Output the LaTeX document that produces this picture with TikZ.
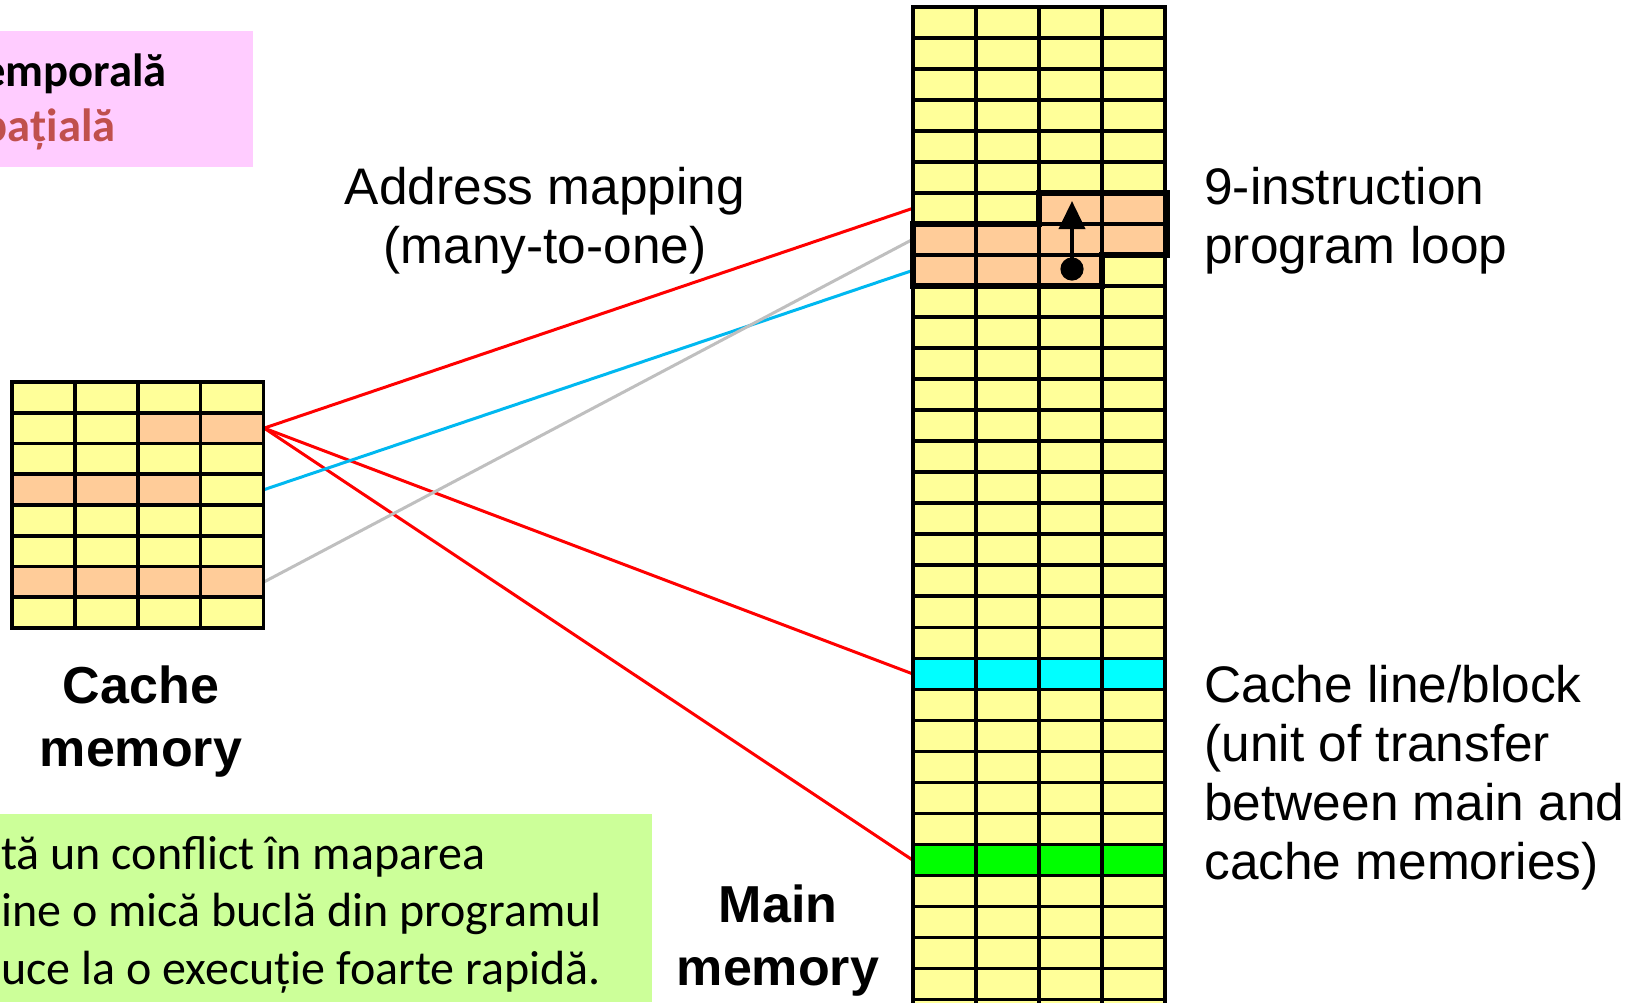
\documentclass[tikz,border=0pt]{standalone}
\usepackage{fontspec}
\setmainfont{Liberation Sans}
\newfontfamily\calf{Carlito}
\usetikzlibrary{arrows.meta}
\definecolor{cellY}{HTML}{FFFF99}
\definecolor{cellO}{HTML}{FFCC99}
\definecolor{cellC}{HTML}{00FFFF}
\definecolor{cellG}{HTML}{00FF00}
\definecolor{pinkbg}{HTML}{FFCCFF}
\definecolor{greenbg}{HTML}{CCFF99}
\definecolor{pinktext}{HTML}{C0504D}
\definecolor{blueline}{HTML}{00B8F0}
\definecolor{grayline}{HTML}{BFBFBF}
\tikzset{
  rowbox/.style={minimum width=126pt, minimum height=15.5pt, inner sep=0pt, draw=none},
  gridline/.style={line width=1.8pt, black},
  mapred/.style={line width=1.5pt, red},
  mapblue/.style={line width=1.5pt, blueline},
  mapgray/.style={line width=1.5pt, grayline},
  loopframe/.style={line width=3pt, black, line join=miter},
  armfont/.style={font=\fontsize{25.7}{29.4}\selectfont, inner sep=0pt},
  boldlbl/.style={font=\bfseries\fontsize{26}{31.5}\selectfont, inner sep=0pt, align=center},
}
\begin{document}
\begin{tikzpicture}[x=0.5pt,y=-0.5pt]
\useasboundingbox (0,0) rectangle (1634,1002);
\clip (0,0) rectangle (1634,1002);

% pink box
\fill[pinkbg] (0,31) rectangle (253,167);
\node[anchor=base east, inner sep=0pt, font=\calf\bfseries\fontsize{23.3}{27.5}\selectfont] (ptemp) at (167,86) {emporală};
\node[anchor=base east, inner sep=0pt, font=\calf\bfseries\fontsize{23.3}{27.5}\selectfont, text=pinktext] (pspat) at (116,141) {pațială};

% green box
\fill[greenbg] (0,814) rectangle (652,1002);
\node[anchor=base west, inner sep=0pt, align=left, font=\calf\fontsize{24}{28.7}\selectfont] (gtext) at (1,984)
  {tă un conflict în maparea\\ine o mică buclă din programul\\uce la o execuție foarte rapidă.};

% row anchors
\foreach \r in {0,...,32} \node[rowbox] (m\r) at (1039,{6.7+(\r+0.5)*31.03}) {};
\foreach \r in {0,...,7} \node[rowbox] (c\r) at (137.75,{382+(\r+0.5)*30.75}) {};

% mapping lines
\draw[mapred] (c1.east) -- (m6.west);
\draw[mapred] (c1.east) -- (m21.west);
\draw[mapred] (c1.east) -- (m27.west);
\draw[mapblue] (c3.east) -- (m8.west);
\draw[mapgray] (c6.east) -- (m7.west);

% main memory
\fill[cellY] (913,6.7) rectangle (1165,1010);
\fill[cellO] (1039,{6.7+6*31.03}) rectangle (1165,{6.7+7*31.03});
\fill[cellO] (913,{6.7+7*31.03}) rectangle (1165,{6.7+8*31.03});
\fill[cellO] (913,{6.7+8*31.03}) rectangle (1102,{6.7+9*31.03});
\fill[cellC] (913,{6.7+21*31.03}) rectangle (1165,{6.7+22*31.03});
\fill[cellG] (913,{6.7+27*31.03}) rectangle (1165,{6.7+28*31.03});
\foreach \r in {1,...,33} \draw[gridline] (913,{6.7+\r*31.03}) -- (1165,{6.7+\r*31.03});
\foreach \c in {1,2,3} \draw[gridline] ({913+63*\c},6.7) -- ({913+63*\c},1010);
\draw[gridline] (913,1010) -- (913,6.7) -- (1165,6.7) -- (1165,1010);

% cache memory
\fill[cellY] (12,382) rectangle (263.5,628);
\fill[cellO] (137.75,{382+1*30.75}) rectangle (263.5,{382+2*30.75});
\fill[cellO] (12,{382+3*30.75}) rectangle (200.6,{382+4*30.75});
\fill[cellO] (12,{382+6*30.75}) rectangle (263.5,{382+7*30.75});
\foreach \r in {1,...,7} \draw[gridline] (12,{382+\r*30.75}) -- (263.5,{382+\r*30.75});
\foreach \c in {1,2,3} \draw[gridline] ({12+62.875*\c},382) -- ({12+62.875*\c},628);
\draw[gridline] (12,382) rectangle (263.5,628);

% loop frame and arrow
\draw[loopframe] (1039,{6.7+6*31.03}) -- (1167,{6.7+6*31.03}) -- (1167,{6.7+8*31.03}) -- (1102,{6.7+8*31.03})
  -- (1102,{6.7+9*31.03}) -- (913,{6.7+9*31.03}) -- (913,{6.7+7*31.03}) -- (1039,{6.7+7*31.03}) -- cycle;
\coordinate (loopdot) at (1072,269);
\coordinate (looptip) at (1072,201);
\fill (loopdot) circle (5.8pt);
\draw[line width=2pt, -{Triangle[width=13pt,length=14pt]}] (loopdot) -- (looptip);

% labels
\node[armfont, anchor=base, align=center] (addr) at (545,263) {Address mapping\\(many-to-one)};
\node[armfont, anchor=base west, align=left] (loopl) at (1204,263) {9-instruction\\program loop};
\node[armfont, anchor=base west, align=left] (linel) at (1204,879) {Cache line/block\\(unit of transfer\\between main and\\cache memories)};
\node[boldlbl, anchor=base] (cachel) at (141,766) {Cache\\memory};
\node[boldlbl, anchor=base] (mainl) at (778,985) {Main\\memory};
\end{tikzpicture}
\end{document}
